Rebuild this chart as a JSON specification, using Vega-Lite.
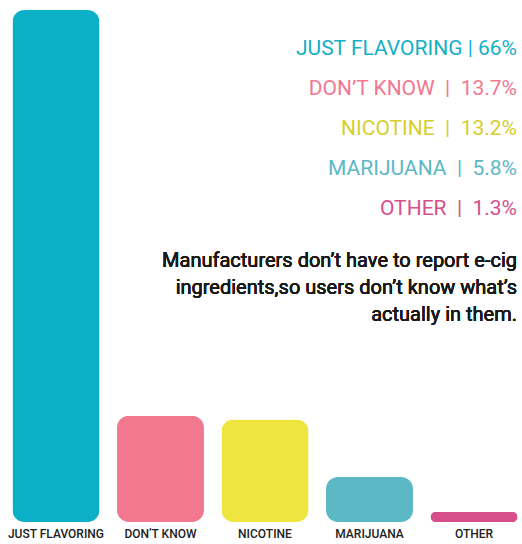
{
  "$schema": "https://vega.github.io/schema/vega-lite/v6.json",
  "width": 522,
  "height": 512,
  "autosize": {"type": "none"},
  "padding": {"left": 0, "right": 0, "top": 10, "bottom": 22},
  "background": "white",
  "config": {"view": {"stroke": null}},
  "data": {
    "values": [
      {"category": "JUST FLAVORING", "pct": 66, "label": "JUST FLAVORING | 66%"},
      {"category": "DON’T KNOW", "pct": 13.7, "label": "DON’T KNOW\u00a0 |\u00a0 13.7%"},
      {"category": "NICOTINE", "pct": 13.2, "label": "NICOTINE\u00a0 |\u00a0 13.2%"},
      {"category": "MARIJUANA", "pct": 5.8, "label": "MARIJUANA\u00a0 |\u00a0 5.8%"},
      {"category": "OTHER", "pct": 1.3, "label": "OTHER\u00a0 |\u00a0 1.3%"}
    ]
  },
  "resolve": {"scale": {"y": "independent", "color": "independent"}},
  "layer": [
    {
      "mark": {"type": "bar", "cornerRadius": 12},
      "encoding": {
        "x": {
          "field": "category",
          "type": "nominal",
          "sort": null,
          "scale": {"paddingInner": 0.1675, "paddingOuter": 0.081, "align": 0.735},
          "axis": {
            "title": null,
            "domain": false,
            "ticks": false,
            "labelAngle": 0,
            "labelFont": "Roboto",
            "labelFontSize": 12,
            "labelFontWeight": 500,
            "labelColor": "#222222",
            "labelPadding": 6
          }
        },
        "y": {
          "field": "pct",
          "type": "quantitative",
          "scale": {"domain": [0, 66], "nice": false},
          "axis": null
        },
        "color": {
          "field": "category",
          "type": "nominal",
          "sort": null,
          "scale": {
            "domain": ["JUST FLAVORING", "DON’T KNOW", "NICOTINE", "MARIJUANA", "OTHER"],
            "range": ["#0bafc6", "#f2788f", "#efe53f", "#5db8c6", "#d64f8b"]
          },
          "legend": null
        }
      }
    },
    {
      "mark": {
        "type": "text",
        "align": "right",
        "baseline": "alphabetic",
        "dx": -5,
        "font": "Roboto",
        "fontSize": 21,
        "fontWeight": 400
      },
      "encoding": {
        "x": {"value": "width"},
        "y": {
          "field": "category",
          "type": "nominal",
          "sort": null,
          "scale": {
            "type": "point",
            "domain": ["JUST FLAVORING", "DON’T KNOW", "NICOTINE", "MARIJUANA", "OTHER", "pad1", "pad2", "pad3", "pad4", "pad5", "pad6", "pad7"],
            "padding": 0.9,
            "align": 0.625
          },
          "axis": null
        },
        "text": {"field": "label"},
        "color": {
          "field": "category",
          "type": "nominal",
          "sort": null,
          "scale": {
            "domain": ["JUST FLAVORING", "DON’T KNOW", "NICOTINE", "MARIJUANA", "OTHER"],
            "range": ["#14b0c5", "#f2788f", "#d6ce2e", "#5db8c6", "#d64f8b"]
          },
          "legend": null
        }
      }
    },
    {
      "mark": {
        "type": "text",
        "align": "right",
        "baseline": "alphabetic",
        "dx": -5,
        "font": "Roboto",
        "fontSize": 20,
        "fontWeight": 400,
        "lineHeight": 27,
        "color": "#1a1a1a",
        "text": ["Manufacturers don’t have to report e-cig", "ingredients,so users don’t know what’s", "actually in them."]
      },
      "encoding": {
        "x": {"value": "width"},
        "y": {
          "datum": 32.87,
          "type": "quantitative",
          "scale": {"domain": [0, 66], "nice": false},
          "axis": null
        }
      }
    }
  ]
}
